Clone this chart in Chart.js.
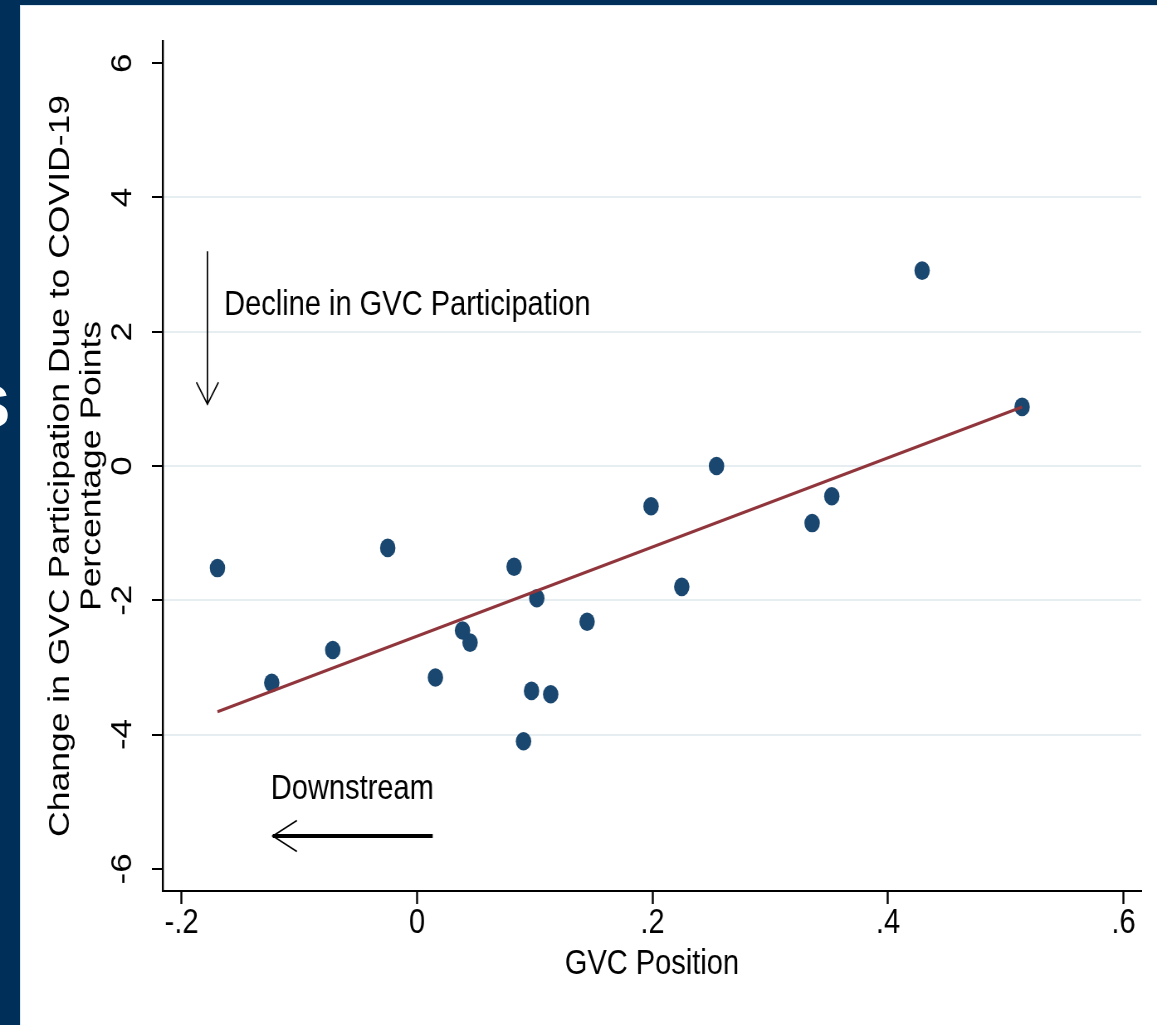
<!DOCTYPE html>
<html>
<head>
<meta charset="utf-8">
<title>GVC Position and Participation</title>
<script src="https://cdn.jsdelivr.net/npm/chart.js@4.4.1/dist/chart.umd.min.js"></script>
<style>
    html, body {
        margin: 0;
        padding: 0;
        width: 1157px;
        height: 1025px;
        overflow: hidden;
        background: #00305a;
    }
    #panel {
        position: absolute;
        left: 20px;
        top: 5px;
        right: 0;
        bottom: 0;
        background: #fff;
        border-top: 1px solid #dceaf1;
        border-left: 1px solid #dceaf1;
    }
    #edgeMark {
        position: absolute;
        left: 0;
        top: 0;
        width: 20px;
        height: 1025px;
        overflow: hidden;
    }
    #edgeMark span {
        position: absolute;
        left: -30px;
        top: 377px;
        font: bold 60px/60px "Liberation Sans", Arial, sans-serif;
        color: #fff;
    }
    /* chart is laid out wide, then narrowed to the page width */
    #chartBox {
        position: absolute;
        left: 0;
        top: 0;
        width: 1394px;
        height: 1025px;
        transform: scaleX(0.83);
        transform-origin: 0 0;
    }
</style>
</head>
<body>
<div id="panel"></div>
<div id="edgeMark"><span>S</span></div>
<div id="chartBox"><canvas id="gvcChart"></canvas></div>
<script>
const gvcPosition = [-0.1695, -0.1234, -0.0716, -0.0249, 0.0156, 0.0386, 0.0450, 0.0824, 0.0972, 0.0904,
    0.1017, 0.1135, 0.1444, 0.1987, 0.2248, 0.2543, 0.3355, 0.3522, 0.4289, 0.5138];
const gvcChange = [-1.52, -3.23, -2.74, -1.22, -3.15, -2.45, -2.63, -1.50, -3.35, -4.10,
    -1.97, -3.40, -2.32, -0.60, -1.80, 0.00, -0.85, -0.45, 2.91, 0.88];

// fitted line, end points
const fitPosition = [-0.1695, 0.5138];
const fitChange = [-3.66, 0.88];

const xTicks = [-0.2, 0, 0.2, 0.4, 0.6];
const xTickLabels = ['-.2', '0', '.2', '.4', '.6'];
const yTicks = [-6, -4, -2, 0, 2, 4, 6];
const yTickLabels = ['-6', '-4', '-2', '0', '2', '4', '6'];

// arrows and notes, in axis units
const declineArrow = { x: [-0.178, -0.178], y: [3.2, 0.92] };
const declineNote = { x: -0.1639, y: 2.25, text: 'Decline in GVC Participation' };
const downstreamArrow = { x: [0.0133, -0.1225], y: [-5.51, -5.51] };
const downstreamNote = { x: -0.1242, y: -4.96, text: 'Downstream' };

const family = '"Liberation Sans", Arial, Helvetica, sans-serif';
const font = { family: family, size: 35, lineHeight: 1.08 };
const yTitleFont = { family: family, size: 35.5, lineHeight: 1.08 };

function drawArrow(ctx, x1, y1, x2, y2, shaftWidth, headLen, headHalf) {
    const ang = Math.atan2(y2 - y1, x2 - x1);
    ctx.lineWidth = shaftWidth;
    ctx.beginPath();
    ctx.moveTo(x1, y1);
    ctx.lineTo(x2, y2);
    ctx.stroke();
    const bx = x2 - headLen * Math.cos(ang), by = y2 - headLen * Math.sin(ang);
    const nx = -Math.sin(ang) * headHalf, ny = Math.cos(ang) * headHalf;
    ctx.lineWidth = 1.6;
    ctx.beginPath();
    ctx.moveTo(bx + nx, by + ny);
    ctx.lineTo(x2, y2);
    ctx.lineTo(bx - nx, by - ny);
    ctx.stroke();
}

const notesPlugin = {
    id: 'notes',
    afterDatasetsDraw(chart) {
        const { ctx, scales: { x, y } } = chart;
        ctx.save();
        ctx.strokeStyle = '#000';
        ctx.fillStyle = '#000';
        ctx.lineCap = 'butt';

        drawArrow(ctx,
            x.getPixelForValue(declineArrow.x[0]), y.getPixelForValue(declineArrow.y[0]),
            x.getPixelForValue(declineArrow.x[1]), y.getPixelForValue(declineArrow.y[1]),
            1.8, 22, 13.3);
        drawArrow(ctx,
            x.getPixelForValue(downstreamArrow.x[0]), y.getPixelForValue(downstreamArrow.y[0]),
            x.getPixelForValue(downstreamArrow.x[1]), y.getPixelForValue(downstreamArrow.y[1]),
            4, 29, 15.5);

        ctx.font = `35px ${family}`;
        ctx.textAlign = 'left';
        ctx.textBaseline = 'alphabetic';
        ctx.fillText(declineNote.text, x.getPixelForValue(declineNote.x), y.getPixelForValue(declineNote.y));
        ctx.fillText(downstreamNote.text, x.getPixelForValue(downstreamNote.x), y.getPixelForValue(downstreamNote.y));
        ctx.restore();
    }
};

const ctx = document.getElementById('gvcChart').getContext('2d');

new Chart(ctx, {
    type: 'scatter',
    data: {
        datasets: [{
            type: 'line',
            label: 'Fitted values',
            data: fitPosition.map((v, i) => ({ x: v, y: fitChange[i] })),
            borderColor: '#90353b',
            borderWidth: 3.2,
            pointRadius: 0,
            fill: false,
            order: 0
        }, {
            label: 'GVC participation change',
            data: gvcPosition.map((v, i) => ({ x: v, y: gvcChange[i] })),
            backgroundColor: '#1a476f',
            borderWidth: 0,
            pointRadius: 9.3,
            order: 1
        }]
    },
    options: {
        responsive: true,
        maintainAspectRatio: false,
        animation: false,
        layout: {
            padding: { top: 41, right: 19, bottom: 0, left: 0 }
        },
        plugins: {
            legend: { display: false },
            tooltip: { enabled: false }
        },
        scales: {
            x: {
                type: 'linear',
                bounds: 'data',
                min: -0.216,
                max: 0.615,
                afterBuildTicks: s => { s.ticks = xTicks.map(v => ({ value: v })); },
                afterFit: s => { s.height = 134; },
                border: { display: true, color: '#000', width: 2 },
                grid: {
                    drawOnChartArea: false,
                    drawTicks: true,
                    tickLength: 13,
                    tickColor: '#000',
                    tickWidth: 2.4
                },
                ticks: {
                    autoSkip: false,
                    maxRotation: 0,
                    padding: 0,
                    color: '#000',
                    font: font,
                    callback: (v, i) => xTickLabels[i]
                },
                title: {
                    display: true,
                    text: 'GVC Position',
                    color: '#000',
                    font: font,
                    padding: { top: 0, bottom: 42 }
                }
            },
            y: {
                type: 'linear',
                bounds: 'data',
                min: -6.33,
                max: 6.33,
                afterBuildTicks: s => { s.ticks = yTicks.map(v => ({ value: v })); },
                afterFit: s => { s.width = 196; },
                border: { display: true, color: '#000', width: 2.4 },
                grid: {
                    color: c => (c.tick && Math.abs(c.tick.value) < 5) ? '#e6eef2' : 'rgba(0,0,0,0)',
                    lineWidth: 2,
                    drawTicks: true,
                    tickLength: 13,
                    tickColor: '#000',
                    tickWidth: 2
                },
                ticks: {
                    autoSkip: false,
                    minRotation: 90,
                    maxRotation: 90,
                    crossAlign: 'center',
                    padding: 19,
                    color: '#000',
                    font: font,
                    callback: (v, i) => yTickLabels[i]
                },
                title: {
                    display: true,
                    text: ['Change in GVC Participation Due to COVID-19', 'Percentage Points'],
                    color: '#000',
                    font: yTitleFont,
                    padding: { top: 54, bottom: 0 }
                }
            }
        }
    },
    plugins: [notesPlugin]
});
</script>
</body>
</html>
